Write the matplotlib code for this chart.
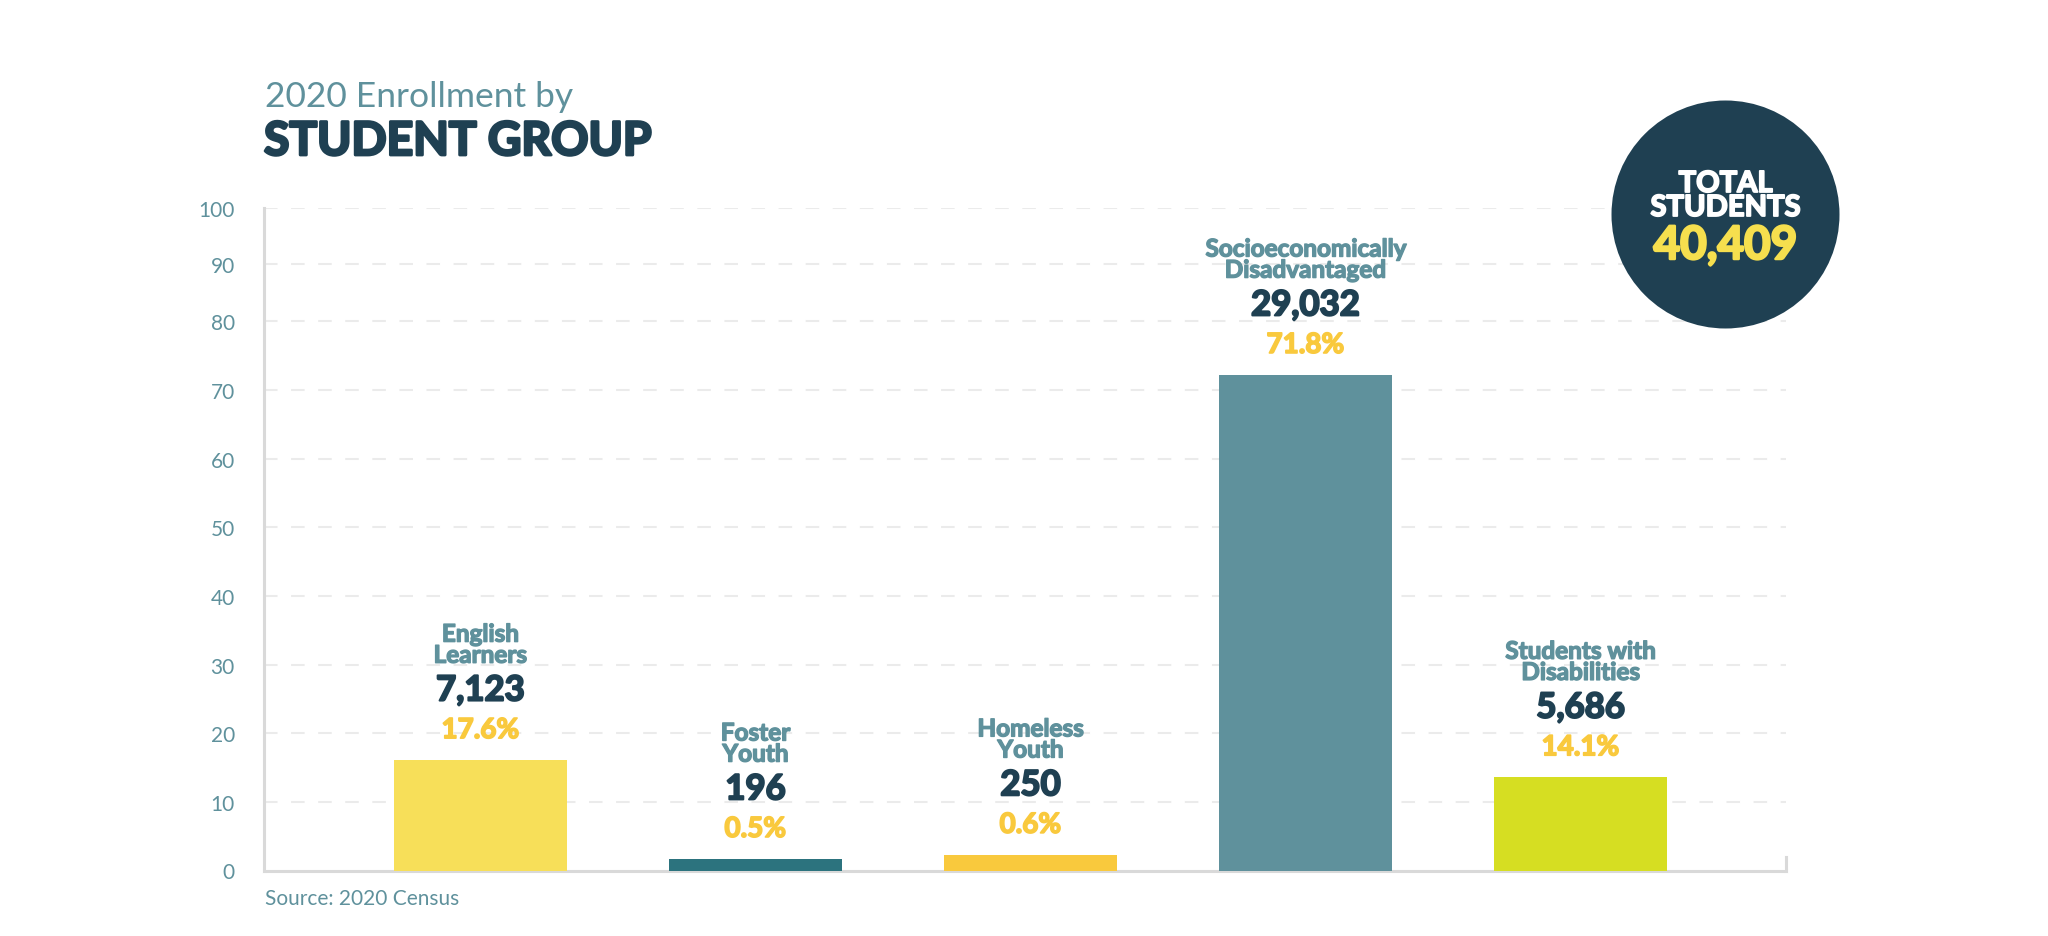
import matplotlib
matplotlib.use("Agg")
import matplotlib.pyplot as plt
from matplotlib.patches import Ellipse
import matplotlib.patheffects as pe

# ---------------- data ----------------
categories = ["English\nLearners", "Foster\nYouth", "Homeless\nYouth",
              "Socioeconomically\nDisadvantaged", "Students with\nDisabilities"]
bar_values = [16.1, 1.7, 2.3, 72.2, 13.6]          # bar heights as drawn
counts = ["7,123", "196", "250", "29,032", "5,686"]
percents = ["17.6%", "0.5%", "0.6%", "71.8%", "14.1%"]
bar_colors = ["#f7df59", "#2c737e", "#f9c93d", "#5f919c", "#d6de22"]
tick_positions = [0, 10, 20, 30, 40, 50, 60, 70, 80, 88.4, 96.5]
tick_labels = ["0", "10", "20", "30", "40", "50", "60", "70", "80", "90", "100"]
total_students = "40,409"

TEAL = "#5f919c"
NAVY = "#1f4052"
GOLD = "#f9c93d"
LIGHTYELLOW = "#f6df4e"
AXIS = "#d9d9d9"
GRID = "#ebebeb"
FONT = ["Lato", "DejaVu Sans"]


def heavy(color, w=1.2):
    return [pe.withStroke(linewidth=w, foreground=color)]


fig = plt.figure(figsize=(20.48, 9.37), dpi=100)
fig.patch.set_facecolor("white")
ax = fig.add_axes([264 / 2048, 1 - 871.5 / 937, (1786 - 264) / 2048, (871.5 - 209) / 937])

x = list(range(len(categories)))
ax.bar(x, bar_values, width=0.629, color=bar_colors, zorder=3)

ax.set_xlim(-0.787, 4.747)
ax.set_ylim(0, 96.5)

# grid
for t in tick_positions[1:]:
    ax.axhline(t, color=GRID, lw=1.5, ls=(0, (6.5, 6.5)), zorder=1)

ax.set_yticks(tick_positions, tick_labels)
ax.set_xticks([])
ax.tick_params(axis="y", length=0, pad=21, labelsize=15, labelcolor=TEAL)
for lab in ax.get_yticklabels():
    lab.set_family(FONT)

ax.spines["top"].set_visible(False)
for s in ["left", "bottom", "right"]:
    ax.spines[s].set_color(AXIS)
    ax.spines[s].set_linewidth(2.2)
ax.spines["right"].set_bounds(0, 2.0)

# labels above bars
for xi, v, name, cnt, pct in zip(x, bar_values, categories, counts, percents):
    ax.annotate(name, (xi, v), xytext=(0, 83), textcoords="offset points",
                ha="center", va="center", fontsize=17.5, fontweight="bold",
                color=TEAL, family=FONT, linespacing=0.9, zorder=4,
                path_effects=heavy(TEAL, 1.0))
    ax.annotate(cnt, (xi, v), xytext=(0, 50), textcoords="offset points",
                ha="center", va="center", fontsize=25, fontweight="bold",
                color=NAVY, family=FONT, zorder=4, path_effects=heavy(NAVY, 1.5))
    ax.annotate(pct, (xi, v), xytext=(0, 21.5), textcoords="offset points",
                ha="center", va="center", fontsize=20, fontweight="bold",
                color=GOLD, family=FONT, zorder=4, path_effects=heavy(GOLD, 1.2))

# titles
fig.text(265 / 2048, 1 - 97 / 937, "2020 Enrollment by", fontsize=25.5,
         color=TEAL, family=FONT, ha="left", va="center")
fig.text(264 / 2048, 1 - 143 / 937, "STUDENT GROUP", fontsize=33.3,
         fontweight="bold", color=NAVY, family=FONT, ha="left", va="center",
         path_effects=heavy(NAVY, 2.0))
fig.text(265 / 2048, 1 - 899 / 937, "Source: 2020 Census", fontsize=15,
         color=TEAL, family=FONT, ha="left", va="center")

# total circle
cx, cy, r = 1725.5, 215.5, 114
fig.patches.append(Ellipse((cx / 2048, 1 - cy / 937), 2 * r / 2048, 2 * r / 937,
                           transform=fig.transFigure, facecolor=NAVY, edgecolor="none"))
fig.text(cx / 2048, 1 - 185 / 937, "TOTAL", fontsize=21, fontweight="bold",
         color="white", family=FONT, ha="center", va="center",
         path_effects=heavy("white", 1.3))
fig.text(cx / 2048, 1 - 209 / 937, "STUDENTS", fontsize=21, fontweight="bold",
         color="white", family=FONT, ha="center", va="center",
         path_effects=heavy("white", 1.3))
fig.text(cx / 2048, 1 - 247 / 937, total_students, fontsize=33, fontweight="bold",
         color=LIGHTYELLOW, family=FONT, ha="center", va="center",
         path_effects=heavy(LIGHTYELLOW, 1.8))

fig.savefig("out.png", dpi=100, facecolor="white")
